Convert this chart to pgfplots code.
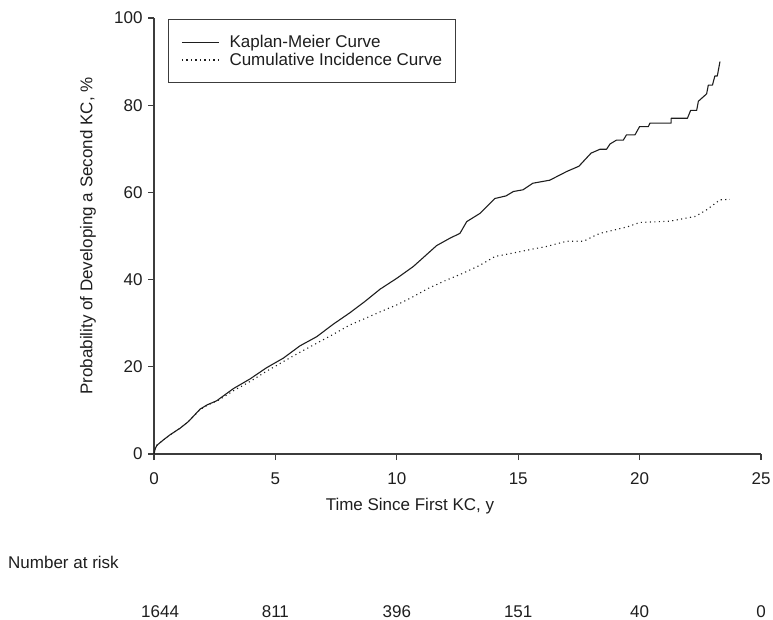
\documentclass[border=0pt]{standalone}
\usepackage{fontspec}
\setmainfont{Liberation Sans}
\usepackage{pgfplots}
\pgfplotsset{compat=1.18}
\definecolor{ink}{HTML}{1E1E1E}
\definecolor{axisgray}{HTML}{3C3C3C}
\newcommand\fs{\fontsize{17bp}{20bp}\selectfont}

\begin{document}
\begin{tikzpicture}[font=\fs]
\useasboundingbox (0,0) rectangle (773bp,620bp);

\begin{axis}[
    scale only axis, width=607bp, height=436bp,
    at={(154bp,166bp)}, anchor=south west,
    xmin=0, xmax=25, ymin=0, ymax=100,
    axis lines*=left,
    axis line style={axisgray, line width=1.1bp},
    tick align=outside, major tick length=6bp,
    tick style={axisgray, line width=1.1bp},
    xtick={0,5,...,25}, ytick={0,20,...,100},
    tick label style={font=\fs, text=ink},
    xticklabel style={yshift=-9bp},
    yticklabel style={xshift=-2bp},
    /pgf/number format/assume math mode=true,
    xlabel={Time Since First KC, y},
    ylabel={Probability of Developing a Second KC, \%},
    label style={font=\fs, text=ink},
    xlabel style={at={(axis description cs:0.4217,-0.119)}, anchor=center},
    ylabel style={at={(axis description cs:-0.1087,0.5)}, anchor=center},
    clip=false,
    legend style={at={(axis description cs:0.023,0.998)}, anchor=north west,
        draw=axisgray, line width=0.9bp, inner xsep=13bp, inner ysep=14bp,
        font=\fs, text=ink, column sep=10bp,
        nodes={inner xsep=0bp, inner ysep=2bp}},
    legend cell align=left,
    legend image code/.code={\draw[#1] (0bp,0bp) -- (37bp,0bp);},
  ]

  % Kaplan-Meier estimate
  \addplot[ink, line width=1.1bp, line join=round] coordinates {
    (0,0) (0.05,1.2) (0.12,2.0) (0.25,2.6) (0.38,3.2) (0.66,4.4) (1.07,5.9)
    (1.41,7.4) (1.9,10.3) (2.2,11.3) (2.58,12.2) (3.27,15.0) (3.95,17.2)
    (4.64,19.8) (5.33,22.0) (6.01,24.8) (6.7,26.9) (7.39,29.8) (8.07,32.4)
    (8.69,35.0) (9.31,37.8) (10.0,40.3) (10.68,43.0) (11.64,47.8) (12.19,49.5)
    (12.6,50.6) (12.88,53.3) (13.43,55.2) (14.04,58.6) (14.5,59.2) (14.8,60.2)
    (15.2,60.6) (15.6,62.1) (16.3,62.8) (17.0,64.8) (17.5,66.0) (18.0,69.0)
    (18.37,69.9) (18.64,69.9) (18.78,71.1) (19.05,72.0) (19.33,72.0) (19.46,73.2)
    (19.81,73.2) (20.0,75.1) (20.36,75.1) (20.43,75.9) (21.3,75.9) (21.3,77.0)
    (21.97,77.0) (22.1,78.8) (22.35,78.8) (22.42,80.9) (22.76,82.6) (22.83,84.6)
    (23.0,84.6) (23.1,86.7) (23.2,86.7) (23.31,90.0)
  };
  \addlegendentry{Kaplan-Meier Curve}

  % cumulative incidence
  \addplot[ink, line width=1.1bp, dash pattern=on 1.1bp off 3.4bp] coordinates {
    (0,0) (0.05,1.2) (0.12,2.0) (0.25,2.6) (0.38,3.2) (0.66,4.4) (1.07,5.9)
    (1.41,7.4) (1.9,10.2) (2.2,11.2) (2.64,12.3) (3.3,14.6) (3.95,16.6)
    (4.64,19.0) (5.33,21.2) (6.0,23.3) (6.7,25.4) (7.4,27.5) (8.07,29.6)
    (8.7,31.1) (9.31,32.6) (10.0,34.2) (10.68,36.1) (11.3,38.0) (12.05,39.9)
    (12.7,41.4) (13.43,43.3) (14.04,45.3) (14.8,46.1) (15.5,46.9) (16.17,47.6)
    (17.0,48.8) (17.7,48.8) (18.2,50.2) (18.37,50.6) (19.5,52.1) (20.0,53.1)
    (21.25,53.4) (22.3,54.5) (22.76,56.0) (23.31,58.3) (23.72,58.4)
  };
  \addlegendentry{Cumulative Incidence Curve\hspace{9bp}}

  % numbers at risk under the ticks, on a common baseline
  \node[text=ink, anchor=base] at (axis cs:0.25,-37.6) {1644};
  \node[text=ink, anchor=base] at (axis cs:5,-37.6) {811};
  \node[text=ink, anchor=base] at (axis cs:10,-37.6) {396};
  \node[text=ink, anchor=base] at (axis cs:15,-37.6) {151};
  \node[text=ink, anchor=base] at (axis cs:20,-37.6) {40};
  \node[text=ink, anchor=base] at (axis cs:25,-37.6) {0};
\end{axis}

\node[text=ink, anchor=west, inner sep=0pt] at (8bp,58bp) {Number at risk};
\end{tikzpicture}
\end{document}
